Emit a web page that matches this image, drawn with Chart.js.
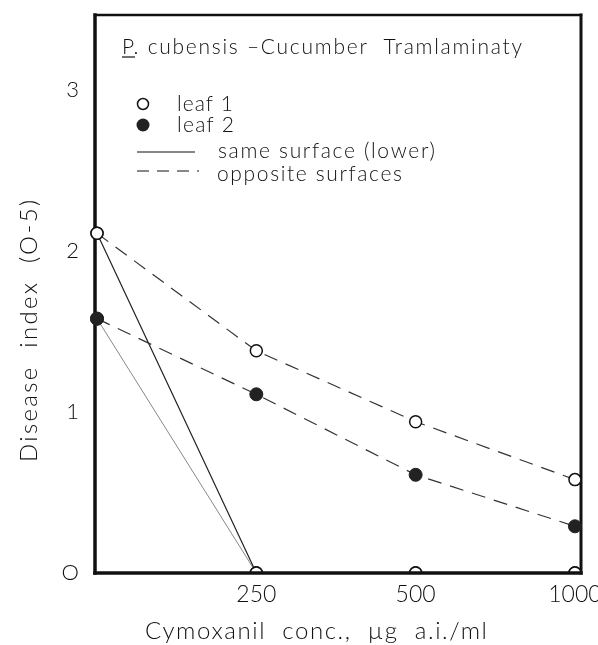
<!DOCTYPE html>
<html>
<head>
<meta charset="utf-8">
<script src="https://cdn.jsdelivr.net/npm/chart.js@4"></script>
<style>
  html, body { margin: 0; padding: 0; background: #fff; }
  #wrap { width: 598px; height: 645px; position: relative; }
</style>
</head>
<body>
<div id="wrap"><canvas id="c" width="598" height="645"></canvas></div>
<script>
// ---- data ----
const categories = ['0', '250', '500', '1000'];
const xTickLabels = ['', '250', '500', '1000'];
const yTickValues = [0, 1, 2, 3];
const yTickLabels = ['O', '1', '2', '3'];
const leaf1Opposite = [2.11, 1.38, 0.94, 0.58];
const leaf2Opposite = [1.58, 1.11, 0.61, 0.29];
const leaf1Same = [2.11, 0, 0, 0];
const leaf2Same = [1.58, 0, 0, 0];

const titleText = 'P. cubensis \u2013Cucumber  Tramlaminaty';
const legendLabels = ['leaf 1', 'leaf 2', 'same surface (lower)', 'opposite surfaces'];
const xTitle = 'Cymoxanil  conc.,  \u00b5g  a.i./ml';
const yTitle = 'Disease  index  (O-5)';

const FONT = 'Lato, "Open Sans", "DejaVu Sans", sans-serif';

function toPoints(arr) { return categories.map((c, i) => ({ x: i, y: arr[i] })); }

function drawFitText(ctx, text, x, y, size, targetWidth, align) {
  ctx.save();
  ctx.font = '300 ' + size + 'px ' + FONT;
  ctx.letterSpacing = '0px';
  const w = ctx.measureText(text).width;
  let ls = 0;
  if (targetWidth && text.length > 1) ls = (targetWidth - w) / (text.length - 1);
  ctx.letterSpacing = ls.toFixed(2) + 'px';
  ctx.fillStyle = '#111';
  ctx.textBaseline = 'middle';
  ctx.textAlign = align || 'left';
  ctx.fillText(text, x, y);
  ctx.restore();
}

const annot = {
  id: 'annot',
  beforeDatasetsDraw(chart) {
    const { ctx, chartArea: a } = chart;
    ctx.save();
    ctx.strokeStyle = '#111';
    ctx.lineCap = 'square';
    ctx.lineWidth = 3.5;
    ctx.beginPath(); ctx.moveTo(a.left, a.top); ctx.lineTo(a.left, a.bottom); ctx.stroke();
    ctx.lineWidth = 2.5;
    ctx.beginPath(); ctx.moveTo(a.left, a.top); ctx.lineTo(a.right, a.top); ctx.stroke();
    ctx.lineWidth = 3;
    ctx.beginPath(); ctx.moveTo(a.right, a.top); ctx.lineTo(a.right, a.bottom); ctx.stroke();
    ctx.restore();
  },
  afterDatasetsDraw(chart) {
    const { ctx, chartArea: a } = chart;
    ctx.save();
    ctx.strokeStyle = '#111';
    ctx.lineWidth = 3.5;
    ctx.lineCap = 'square';
    ctx.beginPath(); ctx.moveTo(a.left, a.bottom); ctx.lineTo(a.right, a.bottom); ctx.stroke();
    ctx.restore();
  },
  afterDraw(chart) {
    const { ctx } = chart;
    // heading
    drawFitText(ctx, titleText, 122, 47, 21, 400, 'left');
    ctx.save();
    ctx.strokeStyle = '#111'; ctx.lineWidth = 1.2;
    ctx.beginPath(); ctx.moveTo(122, 57); ctx.lineTo(135, 57); ctx.stroke();
    ctx.restore();
    // legend symbols
    ctx.save();
    ctx.lineWidth = 1.5; ctx.strokeStyle = '#111'; ctx.fillStyle = '#fff';
    ctx.beginPath(); ctx.arc(143, 104, 5.5, 0, Math.PI * 2); ctx.fill(); ctx.stroke();
    ctx.fillStyle = '#222';
    ctx.beginPath(); ctx.arc(143, 125, 6.5, 0, Math.PI * 2); ctx.fill();
    ctx.lineWidth = 1.2;
    ctx.beginPath(); ctx.moveTo(137, 152); ctx.lineTo(195, 152); ctx.stroke();
    ctx.setLineDash([12, 8]);
    ctx.beginPath(); ctx.moveTo(137, 171); ctx.lineTo(199, 171); ctx.stroke();
    ctx.restore();
    drawFitText(ctx, legendLabels[0], 177, 104, 21, 56, 'left');
    drawFitText(ctx, legendLabels[1], 177, 125, 21, 57, 'left');
    drawFitText(ctx, legendLabels[2], 218, 151, 21, 217, 'left');
    drawFitText(ctx, legendLabels[3], 217, 174, 21, 185, 'left');
    // axis titles
    drawFitText(ctx, xTitle, 145, 631, 24, 342, 'left');
    ctx.save();
    ctx.translate(29, 462);
    ctx.rotate(-Math.PI / 2);
    drawFitText(ctx, yTitle, 0, 0, 24, 262, 'left');
    ctx.restore();
  }
};

const openPt = { pointStyle: 'circle', pointRadius: 6, pointBackgroundColor: '#fff', pointBorderColor: '#111', pointBorderWidth: 1.5 };
const fillPt = { pointStyle: 'circle', pointRadius: 6.5, pointBackgroundColor: '#222', pointBorderColor: '#222', pointBorderWidth: 1 };
const clipBottom = { clip: { left: false, right: false, top: false, bottom: 0 } };

function zeroPad(s) { s.paddingLeft = 0; s.paddingRight = 0; s.paddingTop = 0; s.paddingBottom = 0; }

new Chart(document.getElementById('c'), {
  type: 'line',
  data: {
    datasets: [
      Object.assign({ label: 'leaf 1 opposite surfaces', data: toPoints(leaf1Opposite), borderColor: '#333', borderWidth: 1.2, borderDash: [14, 9] }, openPt, clipBottom),
      Object.assign({ label: 'leaf 2 opposite surfaces', data: toPoints(leaf2Opposite), borderColor: '#333', borderWidth: 1.2, borderDash: [14, 9] }, fillPt, clipBottom),
      Object.assign({ label: 'leaf 1 same surface', data: toPoints(leaf1Same), borderColor: '#222', borderWidth: 1.2 }, openPt, clipBottom),
      Object.assign({ label: 'leaf 2 same surface', data: toPoints(leaf2Same), borderColor: '#888', borderWidth: 1 }, fillPt, clipBottom)
    ]
  },
  options: {
    responsive: false,
    animation: false,
    devicePixelRatio: 1,
    layout: { padding: { top: 15, right: 17, left: 0, bottom: 0 } },
    plugins: { legend: { display: false }, tooltip: { enabled: false }, title: { display: false } },
    scales: {
      x: {
        type: 'linear',
        min: -0.0126,
        max: 3.038,
        grid: { display: false },
        border: { display: false },
        afterBuildTicks: (s) => { s.ticks = categories.map((c, i) => ({ value: i })); },
        afterFit: (s) => { s.height = 72; zeroPad(s); },
        ticks: {
          autoSkip: false,
          maxRotation: 0,
          padding: 0,
          color: '#111',
          font: { family: FONT, size: 23, weight: '300' },
          callback: (v, i) => xTickLabels[i]
        }
      },
      y: {
        min: 0,
        max: 3.466,
        grid: { display: false },
        border: { display: false },
        afterBuildTicks: (s) => { s.ticks = yTickValues.map(v => ({ value: v })); },
        afterFit: (s) => { s.width = 95; zeroPad(s); },
        ticks: {
          padding: 8,
          color: '#111',
          font: { family: FONT, size: 22, weight: '300' },
          callback: (v, i) => yTickLabels[i]
        }
      }
    }
  },
  plugins: [annot]
});
</script>
</body>
</html>
